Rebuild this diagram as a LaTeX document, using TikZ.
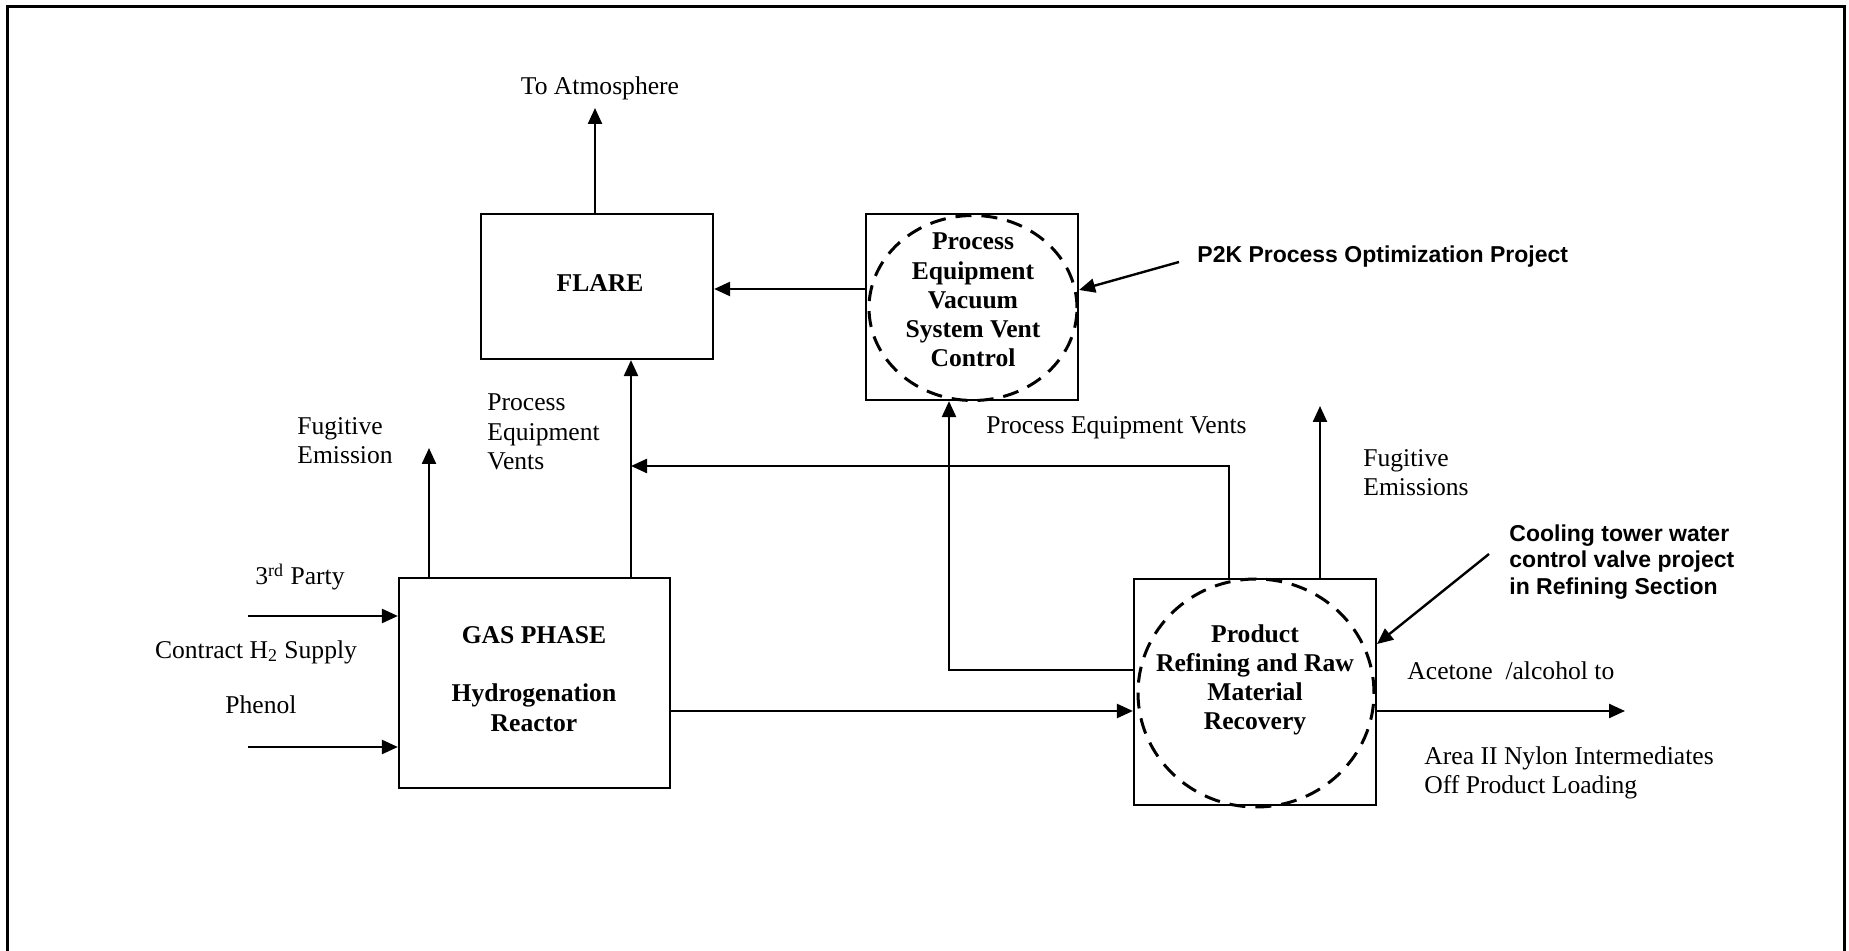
\documentclass[tikz,border=0pt]{standalone}
\usepackage{fontspec}
\setmainfont{Liberation Serif}
\newfontfamily\annfont{Liberation Sans}
\usetikzlibrary{arrows.meta,shapes.geometric}
\tikzset{
  box/.style={draw,line width=1.1pt,rectangle,inner sep=0pt},
  ring/.style={draw,ellipse,line width=1.5pt,dash pattern=on 8pt off 5pt,inner sep=0pt},
  arr/.style={line width=1.2pt,-{Triangle[length=8pt,width=7pt]}},
  lbl/.style={inner sep=0pt,font=\fontsize{12.8}{14.6}\selectfont},
  blbl/.style={inner sep=0pt,align=center,font=\fontsize{12.8}{14.6}\selectfont\bfseries},
  ann/.style={inner sep=0pt,align=left,font=\fontsize{11.5}{13.25}\selectfont\annfont\bfseries},
}
\begin{document}
\begin{tikzpicture}[x=0.5pt,y=-0.5pt]
\useasboundingbox (0,0) rectangle (1849,951);
\draw[line width=1.5pt] (7,951) -- (7,7) -- (1844,7) -- (1844,951);

% boxes
\node[box,minimum width=116pt,minimum height=72.5pt] (flare) at (597,286.5) {};
\node[blbl] (flaret) at (600,283) {FLARE};
\node[box,minimum width=106pt,minimum height=93pt] (pev) at (972,307) {};
\node[ring,minimum width=104pt,minimum height=92.5pt] (pevc) at (973,308) {};
\node[blbl] (pevt) at (973,300) {Process\\Equipment\\Vacuum\\System Vent\\Control};
\node[box,minimum width=135.5pt,minimum height=105pt] (gas) at (534.5,683) {};
\node[blbl] (gast) at (534,679) {GAS PHASE\\[14.6pt]Hydrogenation\\Reactor};
\node[box,minimum width=121pt,minimum height=113pt] (prod) at (1255,692) {};
\node[ring,minimum width=118pt,minimum height=114pt] (prodc) at (1256,693) {};
\node[blbl] (prodt) at (1255,680) {Product\\Refining and Raw\\Material\\Recovery};

% coordinates
\coordinate (atm) at (595,108);
\coordinate (p2ks) at (1179,262);
\coordinate (tp) at (248,616);
\coordinate (ph) at (248,747);
\coordinate (fe) at (429,448);
\coordinate (pvx) at (631,466);
\coordinate (rvx) at (1229,466);
\coordinate (pevx) at (949,670);
\coordinate (fe2) at (1320,406);
\coordinate (m) at (700,711);
\coordinate (out) at (1625,711);
\coordinate (cts) at (1489,554);
\coordinate (cte) at (1377,644);

% connectors
\draw[arr] (atm |- flare.north) -- (atm);
\draw[arr] (pev.west |- {(0,289)}) -- (flare.east |- {(0,289)});
\draw[arr] (p2ks) -- ([yshift=8.5pt]pev.east);
\draw[arr] (tp) -- (gas.west |- tp);
\draw[arr] (ph) -- (gas.west |- ph);
\draw[arr] (fe |- gas.north) -- (fe);
\draw[arr] (pvx |- gas.north) -- (pvx |- flare.south);
\draw[arr] (rvx |- prod.north) -- (rvx) -- (pvx);
\draw[arr] (prod.west |- pevx) -- (pevx) -- (pevx |- pev.south);
\draw[arr] (fe2 |- prod.north) -- (fe2);
\draw[arr] (gas.east |- m) -- (prod.west |- m);
\draw[arr] (prod.east |- m) -- (out);
\draw[arr] (cts) -- (cte);

% labels
\node[lbl] (latm) at (600,88) {To Atmosphere};
\node[ann,anchor=west] (lp2k) at (1197,257) {P2K Process Optimization Project};
\node[lbl] (ltp) at (300,577) {3\textsuperscript{rd} Party};
\node[lbl] (lch) at (256,652) {Contract H\textsubscript{2} Supply};
\node[lbl] (lph) at (261,705) {Phenol};
\node[lbl,anchor=west,align=left] (lfe) at (297,440.5) {Fugitive\\Emission};
\node[lbl,anchor=west,align=left] (lpv) at (487,432) {Process\\Equipment\\Vents};
\node[lbl,anchor=west] (lrv) at (986,428) {Process Equipment Vents};
\node[lbl,anchor=west,align=left] (lfe2) at (1363,472.5) {Fugitive\\Emissions};
\node[ann,anchor=west] (lct) at (1509,562) {Cooling tower water\\control valve project\\in Refining Section};
\node[lbl,anchor=west] (lac) at (1407,671) {Acetone\ \ /alcohol to};
\node[lbl,anchor=west,align=left] (lar) at (1424,773) {Area II Nylon Intermediates\\Off Product Loading};
\end{tikzpicture}
\end{document}
